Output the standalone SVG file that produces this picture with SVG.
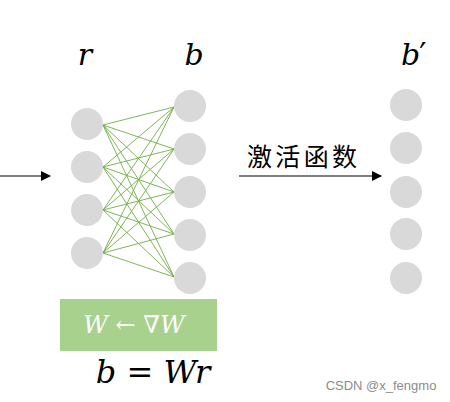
<svg xmlns="http://www.w3.org/2000/svg" width="450" height="402" viewBox="0 0 450 402">
<style>
.n{fill:#d9d9d9}
.e{stroke:#70ad47;stroke-width:0.9;fill:none}
.a{stroke:#000;stroke-width:1.2;fill:none}
.m{font-family:"DejaVu Serif","Liberation Serif",serif;font-style:italic}
</style>
<defs>
<marker id="ah" markerWidth="10" markerHeight="10" refX="9" refY="5" orient="auto" markerUnits="userSpaceOnUse">
<path d="M0,0 L10,5 L0,10 Z" fill="#000"/>
</marker>
</defs>
<rect width="450" height="402" fill="#fff"/>
<g id="connectors">
<line class="a" x1="0" y1="176" x2="50" y2="176" marker-end="url(#ah)"/>
<line class="a" x1="239" y1="176" x2="381" y2="176" marker-end="url(#ah)"/>
<g id="weights">
<path class="e" d="M103,125L174,107M103,125L174,149M103,125L174,192M103,125L174,234M103,125L174,277
M103,167L174,107M103,167L174,149M103,167L174,192M103,167L174,234M103,167L174,277
M103,210L174,107M103,210L174,149M103,210L174,192M103,210L174,234M103,210L174,277
M103,253L174,107M103,253L174,149M103,253L174,192M103,253L174,234M103,253L174,277"/>
</g>
</g>
<g id="r-layer">
<circle class="n" cx="87" cy="124" r="16"/>
<circle class="n" cx="87" cy="167" r="16"/>
<circle class="n" cx="87" cy="210" r="16"/>
<circle class="n" cx="87" cy="253" r="16"/>
<text class="m" x="85" y="65" font-size="30" text-anchor="middle">r</text>
</g>
<g id="b-layer">
<circle class="n" cx="190" cy="106" r="16"/>
<circle class="n" cx="190" cy="149" r="16"/>
<circle class="n" cx="190" cy="192" r="16"/>
<circle class="n" cx="190" cy="235" r="16"/>
<circle class="n" cx="190" cy="278" r="16"/>
<text class="m" x="194" y="65" font-size="30" text-anchor="middle">b</text>
</g>
<g id="bprime-layer">
<circle class="n" cx="406" cy="105" r="16"/>
<circle class="n" cx="406" cy="148" r="16"/>
<circle class="n" cx="406" cy="192" r="16"/>
<circle class="n" cx="406" cy="234" r="16"/>
<circle class="n" cx="406" cy="278" r="16"/>
<text class="m" x="401" y="65" font-size="30">b<tspan font-family="'DejaVu Sans',sans-serif" font-style="normal" font-size="32" dx="-1">′</tspan></text>
</g>
<g id="activation-label">
<text x="247" y="166" font-size="25" font-family="'Noto Sans CJK SC',sans-serif" textLength="110">激活函数</text>
</g>
<g id="update-box">
<rect x="60" y="299" width="157" height="52" fill="#a9d18e"/>
<text class="m" x="134" y="333" font-size="24" fill="#fff" text-anchor="middle">W ← ∇W</text>
</g>
<g id="equation">
<text class="m" x="153" y="383" font-size="32" text-anchor="middle">b = Wr</text>
</g>
<text x="381" y="390" font-size="13" fill="#8c8c8c" font-family="'Liberation Sans',Arial,sans-serif" text-anchor="middle">CSDN @x_fengmo</text>
</svg>
